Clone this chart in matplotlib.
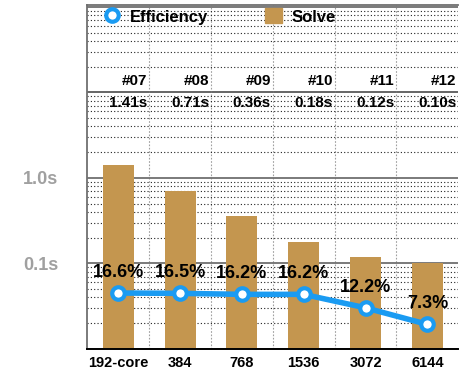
import matplotlib
matplotlib.use("Agg")
import matplotlib.pyplot as plt
import matplotlib.transforms as mtransforms
from matplotlib.lines import Line2D
from matplotlib.patches import Patch
import numpy as np

plt.rcParams['font.family'] = ['Liberation Sans', 'DejaVu Sans']
plt.rcParams['font.weight'] = 'bold'

# data
cores = ['192-core', '384', '768', '1536', '3072', '6144']
run_ids = ['#07', '#08', '#09', '#10', '#11', '#12']
solve_times = [1.41, 0.71, 0.36, 0.18, 0.12, 0.10]      # seconds
efficiency = [16.6, 16.5, 16.2, 16.2, 12.2, 7.3]         # percent

BAR_COLOR = '#C4964F'
LINE_COLOR = '#1A9BF2'

fig = plt.figure(figsize=(4.62, 3.71), dpi=100)
ax = fig.add_axes([0.189, 0.0593, 0.803, 0.9272])
x = np.arange(len(cores))

ax.set_yscale('log')
ax.bar(x, solve_times, width=0.5, color=BAR_COLOR, zorder=2)
ax.set_xlim(-0.5, len(cores) - 0.5)
ax.set_ylim(0.01, 105)

# y ticks: only 0.1s and 1.0s get a label
ax.set_yticks([0.01, 0.1, 1, 10, 100])
ax.set_yticklabels(['', '0.1s', '1.0s', '', ''])
ax.tick_params(axis='y', which='both', length=0, pad=21, labelsize=13,
               labelcolor='#A0A0A0')
ax.set_xticks(x)
ax.set_xticklabels(cores)
ax.tick_params(axis='x', which='both', length=0, pad=5, labelsize=10.5)
ax.set_xticks(x[:-1] + 0.5, minor=True)

# grid
ax.grid(True, which='major', axis='y', color='#707070', lw=1.3, ls='-', zorder=1)
ax.grid(True, which='minor', axis='y', color='#222222', lw=0.8, ls=(0, (1, 2)), zorder=1)
ax.grid(True, which='minor', axis='x', color='#A0A0A0', lw=0.8, ls=(0, (1.5, 1.5)), zorder=1)
ax.axhline(10, color='black', lw=1.2, zorder=1)

for s in ['left', 'top']:
    ax.spines[s].set_color('#707070')
    ax.spines[s].set_linewidth(1.3)
ax.spines['bottom'].set_color('black')
ax.spines['bottom'].set_linewidth(1.4)
ax.spines['right'].set_visible(False)

# run ids and solve times in the top rows
trans = mtransforms.blended_transform_factory(ax.transData, ax.transAxes)
for i, (rid, t) in enumerate(zip(run_ids, solve_times)):
    ax.text(i + 0.47, 0.779, rid, transform=trans, ha='right', va='center',
            fontsize=11, fontweight='bold')
    ax.text(i + 0.47, 0.715, f'{t:.2f}s', transform=trans, ha='right', va='center',
            fontsize=11, fontweight='bold')

# efficiency on a hidden secondary axis
ax2 = ax.twinx()
ax2.set_ylim(0, 102)
ax2.set_yticks([])
for s in ax2.spines.values():
    s.set_visible(False)
ax2.plot(x, efficiency, color=LINE_COLOR, lw=4, marker='o', ms=9, mew=3,
         mfc='white', mec=LINE_COLOR, zorder=3)
for i, e in enumerate(efficiency):
    ax2.annotate(f'{e:.1f}%', (i, e), xytext=(0, 15), textcoords='offset points',
                 ha='center', va='center', fontsize=13, fontweight='bold')

handles = [Line2D([], [], marker='o', ls='none', ms=9, mew=3, mfc='white', mec=LINE_COLOR),
           Patch(color=BAR_COLOR)]
ax2.legend(handles, ['Efficiency', 'Solve'], loc='upper left', bbox_to_anchor=(0.035, 1.0),
           ncol=2, frameon=False, borderaxespad=0.1, borderpad=0.1,
           columnspacing=3.4, handlelength=1.0, handleheight=1.0, handletextpad=0.6,
           prop={'size': 12, 'weight': 'bold'})

fig.savefig('out.png', dpi=100)
